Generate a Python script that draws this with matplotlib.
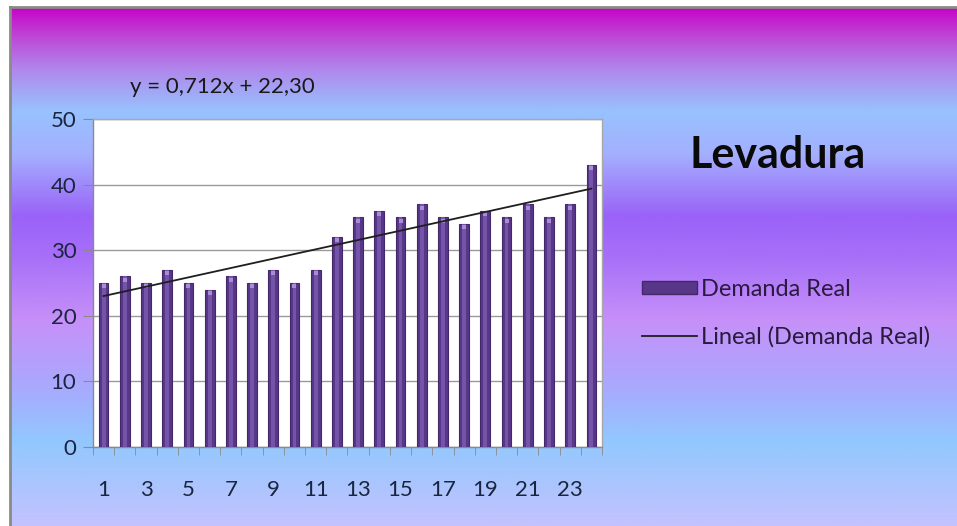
import numpy as np
import matplotlib.pyplot as plt
from matplotlib.colors import LinearSegmentedColormap
from matplotlib.patches import Rectangle
from matplotlib.lines import Line2D

# monthly yeast demand
periodos = list(range(1, 25))
demanda = [25, 26, 25, 27, 25, 24, 26, 25, 27, 25, 27, 32,
           35, 36, 35, 37, 35, 34, 36, 35, 37, 35, 37, 43]
pendiente = 0.712
intercepto = 22.30
titulo = 'Levadura'
ecuacion = 'y = 0,712x + 22,30'

plt.rcParams['font.family'] = ['Lato', 'DejaVu Sans']

fig = plt.figure(figsize=(9.57, 5.26), dpi=100)
fig.patch.set_facecolor('white')

# vertical background gradient behind the chart
bg = fig.add_axes([10/957, -0.01, 1.01, 1.01 - 7/526], zorder=-10)
stops = [(0.00, '#C6C2FE'), (0.17, '#92C8FE'), (0.27, '#A8AAFE'),
         (0.40, '#C690F8'), (0.52, '#A870F8'), (0.60, '#9A62F8'),
         (0.72, '#A4B0FE'), (0.80, '#98C2FE'), (0.88, '#B088EC'),
         (0.95, '#BE40D4'), (1.00, '#C800C8')]
cmap = LinearSegmentedColormap.from_list('fondo', stops)
grad = np.linspace(0, 1, 512).reshape(-1, 1)
bg.imshow(grad, aspect='auto', cmap=cmap, origin='lower', extent=[0, 1, 0, 1])
bg.set_xlim(0, 1)
bg.set_ylim(0, 1)
bg.set_xticks([])
bg.set_yticks([])
for s in ['right', 'bottom']:
    bg.spines[s].set_visible(False)
for s in ['left', 'top']:
    bg.spines[s].set_color('#8A8A8A')
    bg.spines[s].set_linewidth(2)

# plot area
ax = fig.add_axes([93/957, 1 - 447/526, (602 - 93)/957, (447 - 119)/526])
ax.set_facecolor('white')
x = np.array(periodos)
ax.bar(x, demanda, width=0.46, color='#583688', edgecolor='#43286A',
       linewidth=0.8, zorder=3)
ax.bar(x, demanda, width=0.18, color='#7454A8', linewidth=0, zorder=4)
ax.scatter(x, np.array(demanda) - 0.5, s=6, color='#A88CD4', marker='s',
           linewidths=0, zorder=5)

# linear trend
xt = np.array([periodos[0], periodos[-1]])
ax.plot(xt, pendiente * xt + intercepto, color='#1E1E1E', lw=1.3, zorder=6)

ax.set_xlim(0.5, 24.5)
ax.set_ylim(0, 50)
ax.set_yticks(range(0, 51, 10))
ax.yaxis.grid(True, color='#9A9A9A', lw=1)
ax.set_axisbelow(True)
ax.set_xticks(periodos[::2])
ax.set_xticks(np.arange(0.5, 25, 1), minor=True)
ax.tick_params(axis='x', which='major', length=0, pad=24, labelsize=16,
               labelcolor='#1A2540')
ax.tick_params(axis='x', which='minor', length=6, color='#8A8A8A',
               direction='out')
ax.tick_params(axis='y', length=7, color='#8A8A8A', labelsize=16,
               labelcolor='#1A2540', pad=5)
for s in ax.spines.values():
    s.set_color('#A8A8A8')
    s.set_linewidth(1)
ax.spines['left'].set_color('#8A8A8A')
ax.spines['bottom'].set_color('#8A8A8A')

fig.text(130/957, 1 - 87/526, ecuacion, fontsize=16, color='#1A1A1A',
         va='center', ha='left')
fig.text(778/957, 1 - 155/526, titulo, fontsize=31, fontweight='bold',
         color='#0A0A0A', va='center', ha='center')

# legend
h_bar = Rectangle((0, 0), 1, 1, facecolor='#583688', edgecolor='#43286A')
h_line = Line2D([0], [0], color='#1E1E1E', lw=1.3)
fig.legend([h_bar, h_line], ['Demanda Real', 'Lineal (Demanda Real)'],
           loc='center left', bbox_to_anchor=(621/957, 1 - 313/526),
           frameon=False, fontsize=17, handlelength=2.3, handleheight=0.5,
           handletextpad=0.2, labelspacing=1.1, labelcolor='#2A1A40')

fig.savefig('out.png', dpi=100)
